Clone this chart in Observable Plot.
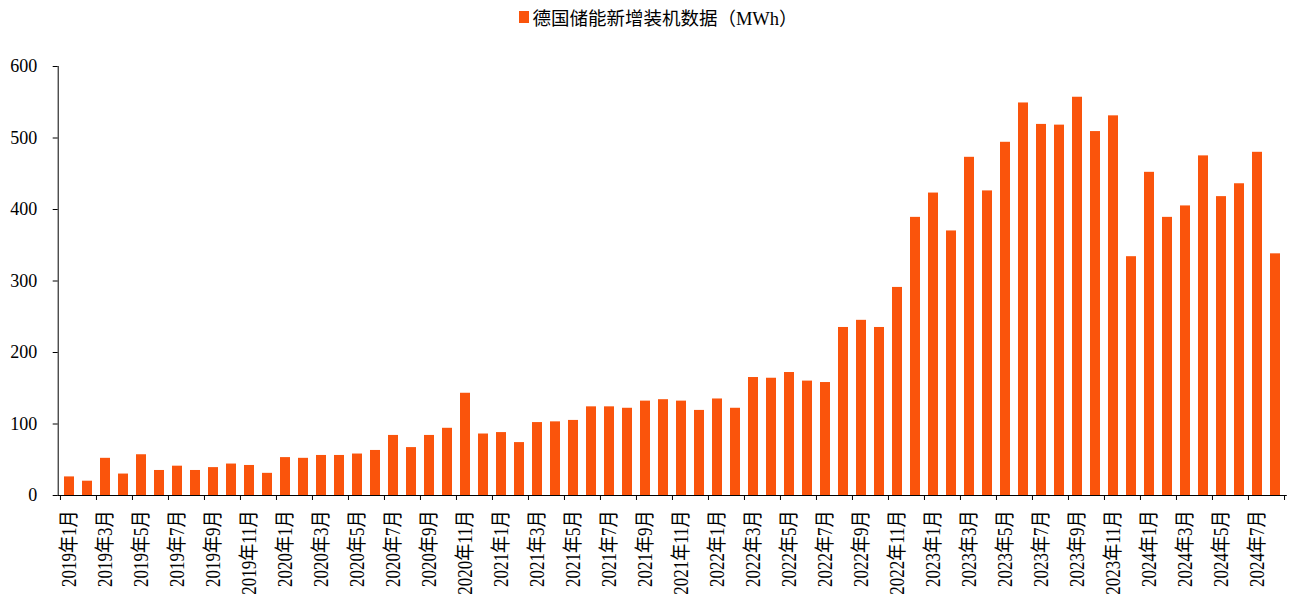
<!DOCTYPE html>
<html><head><meta charset="utf-8">
<script src="https://cdn.jsdelivr.net/npm/d3@7"></script>
<script src="https://cdn.jsdelivr.net/npm/@observablehq/plot@0.6"></script>
<style>
body{margin:0;background:#fff;font-family:"Liberation Serif","Noto Sans CJK SC",serif;}
#legend{height:34px;display:flex;justify-content:center;align-items:center;font-size:18.5px;color:#000;padding-left:24px;}
#legend .sw{display:inline-block;width:10px;height:12px;background:#FA540C;margin-right:3px;}
#chart svg text{fill:#000;}
#chart svg g[aria-label="y-axis tick label"] text{font-size:18px;}
#chart svg g[aria-label="x-axis tick label"] text{font-size:20px;}
</style></head><body>
<div id="legend"><span class="sw"></span><span>德国储能新增装机数据（MWh）</span></div>
<div id="chart"></div>
<script>
const seriesName = "德国储能新增装机数据（MWh）";
const years = [2019, 2020, 2021, 2022, 2023, 2024];
const values2019 = [26, 20, 52, 30, 57, 35, 41, 35, 39, 44, 42, 31];
const values2020 = [53, 52, 56, 56, 58, 63, 84, 67, 84, 94, 143, 86];
const values2021 = [88, 74, 102, 103, 105, 124, 124, 122, 132, 134, 132, 119];
const values2022 = [135, 122, 165, 164, 172, 160, 158, 235, 245, 235, 291, 389];
const values2023 = [423, 370, 473, 426, 494, 549, 519, 518, 557, 509, 531, 334];
const values2024 = [452, 389, 405, 475, 418, 436, 480, 338];
const yTicks = [0, 100, 200, 300, 400, 500, 600];

const allValues = [values2019, values2020, values2021, values2022, values2023, values2024];
const data = [];
years.forEach((y, i) => allValues[i].forEach((v, j) => data.push({month: `${y}年${j + 1}月`, value: v})));
const months = data.map(d => d.month);
const labelMonths = months.filter((m, i) => i % 2 === 0);

const color = "#FA540C";
const W = 1293, H = 601 - 34;
const mL = 57.7, mR = 6.2, mT = 32, mB = H - (495 - 34);
const step = (W - mL - mR) / months.length;

const chart = Plot.plot({
  width: W, height: H,
  marginLeft: mL, marginRight: mR, marginTop: mT, marginBottom: mB,
  style: {fontFamily: '"Liberation Serif","Noto Sans CJK SC",serif', fontSize: "17.5px", color: "#000", background: "#fff", overflow: "visible"},
  x: {domain: months, paddingInner: 0.45, paddingOuter: 0.225, axis: null, label: null},
  y: {domain: [0, 600], axis: null, label: null},
  marks: [
    Plot.barY(data, {x: "month", y: "value", fill: color}),
    Plot.frame({anchor: "left", stroke: "#000"}),
    Plot.ruleY([0], {stroke: "#000"}),
    Plot.axisY(yTicks, {tickSize: 5, tickPadding: 16, label: null, stroke: "#000", fill: "#000"}),
    Plot.axisX(labelMonths, {tickSize: 0, tickPadding: 15, tickRotate: -90, label: null, fill: "#000"}),
    Plot.axisX(labelMonths, {tickSize: 5, tickFormat: () => "", dx: -step / 2, label: null, stroke: "#000"}),
    Plot.axisX([months[months.length - 1]], {tickSize: 5, tickFormat: () => "", dx: step / 2, label: null, stroke: "#000"})
  ]
});
chart.querySelectorAll('g[aria-label="x-axis tick label"] text').forEach(t => {
  const tr = t.getAttribute("transform") || "";
  t.setAttribute("transform", tr + " scale(0.85,1)");
});
document.getElementById("chart").appendChild(chart);
</script>
</body></html>
